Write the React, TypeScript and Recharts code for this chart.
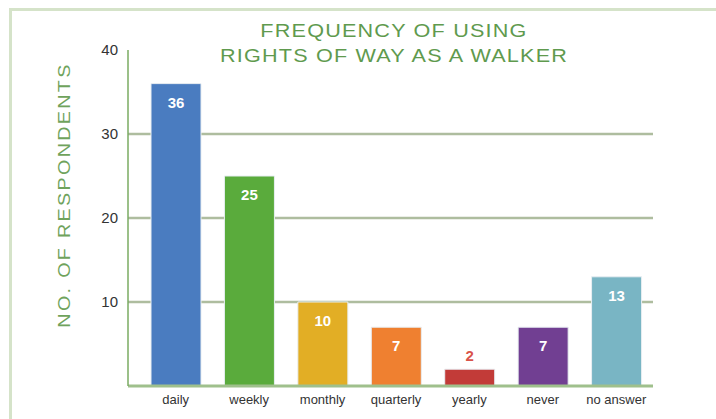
import React from 'react';
import { BarChart, Bar, XAxis, YAxis, CartesianGrid, Cell, LabelList } from 'recharts';

const categories = ['daily', 'weekly', 'monthly', 'quarterly', 'yearly', 'never', 'no answer'];
const respondents = [36, 25, 10, 7, 2, 7, 13];
const barColors = ['#4a7cc0', '#5aab3c', '#e2ae25', '#ef8030', '#c23b38', '#713f92', '#79b5c4'];
const labelColors = ['#ffffff', '#ffffff', '#ffffff', '#ffffff', '#d9534a', '#ffffff', '#ffffff'];
const yTicks = [10, 20, 30, 40];
const gridValues = [10, 20, 30];

const data = categories.map((c, i) => ({ name: c, value: respondents[i] }));

const narrow = '"Liberation Sans Narrow", "Liberation Sans", Arial, sans-serif';

const ValueLabel = (props: any) => {
  const { x, y, width, height, value, index } = props;
  const inside = height > 30;
  const cx = x + width / 2;
  const ty = inside ? y + 24 : y - 8;
  return (
    <text x={cx} y={ty} textAnchor="middle" fill={labelColors[index]} fontSize={15} fontFamily={narrow} fontWeight="bold">
      {value}
    </text>
  );
};

export default function App() {
  return (
    <div style={{ position: 'absolute', left: 0, top: 0, width: 716, height: 419, background: '#fff' }}>
      <div style={{ position: 'absolute', left: 9, top: 8, right: 0, bottom: 0, borderTop: '3px solid #d5e3c9', borderLeft: '3px solid #d5e3c9' }} />
      <div style={{ position: 'absolute', left: 194, width: 400, top: 19, textAlign: 'center', color: '#5f9a4e', fontFamily: '"Liberation Sans", Arial, sans-serif', fontSize: 18, lineHeight: '25px', letterSpacing: 1, transform: 'scaleX(1.2)' }}>
        FREQUENCY OF USING<br />RIGHTS OF WAY AS A WALKER
      </div>
      <div style={{ position: 'absolute', left: 65, top: 195, width: 0, height: 0 }}>
        <div style={{ position: 'absolute', transform: 'translate(-50%, -50%) rotate(-90deg) scaleX(1.16)', whiteSpace: 'nowrap', color: '#6fa35c', fontFamily: '"Liberation Sans", Arial, sans-serif', fontSize: 17, letterSpacing: 2 }}>
          NO. OF RESPONDENTS
        </div>
      </div>
      <div style={{ position: 'absolute', left: 0, top: 0 }}>
        <BarChart width={716} height={419} data={data} margin={{ top: 50, right: 63, bottom: 3, left: 0 }}>
          <CartesianGrid vertical={false} horizontal={true} horizontalValues={gridValues} stroke="#aebd9f" strokeWidth={2.5} />
          <XAxis
            dataKey="name"
            height={30}
            padding={{ left: 11, right: 0 }}
            axisLine={{ stroke: '#9fc08c', strokeWidth: 3 }}
            tickLine={false}
            tick={{ fill: '#333', fontSize: 13, fontFamily: narrow }}
            tickMargin={3}
            interval={0}
          />
          <YAxis
            width={128}
            domain={[0, 40]}
            ticks={yTicks}
            axisLine={{ stroke: '#7aab62', strokeWidth: 1.5 }}
            tickLine={false}
            tick={{ fill: '#333', fontSize: 15, fontFamily: narrow }}
            tickMargin={4}
          />
          <Bar dataKey="value" barSize={50} isAnimationActive={false} stroke="#e8eef2" strokeWidth={1}>
            {data.map((d, i) => (
              <Cell key={d.name} fill={barColors[i]} />
            ))}
            <LabelList dataKey="value" content={<ValueLabel />} />
          </Bar>
        </BarChart>
      </div>
    </div>
  );
}
